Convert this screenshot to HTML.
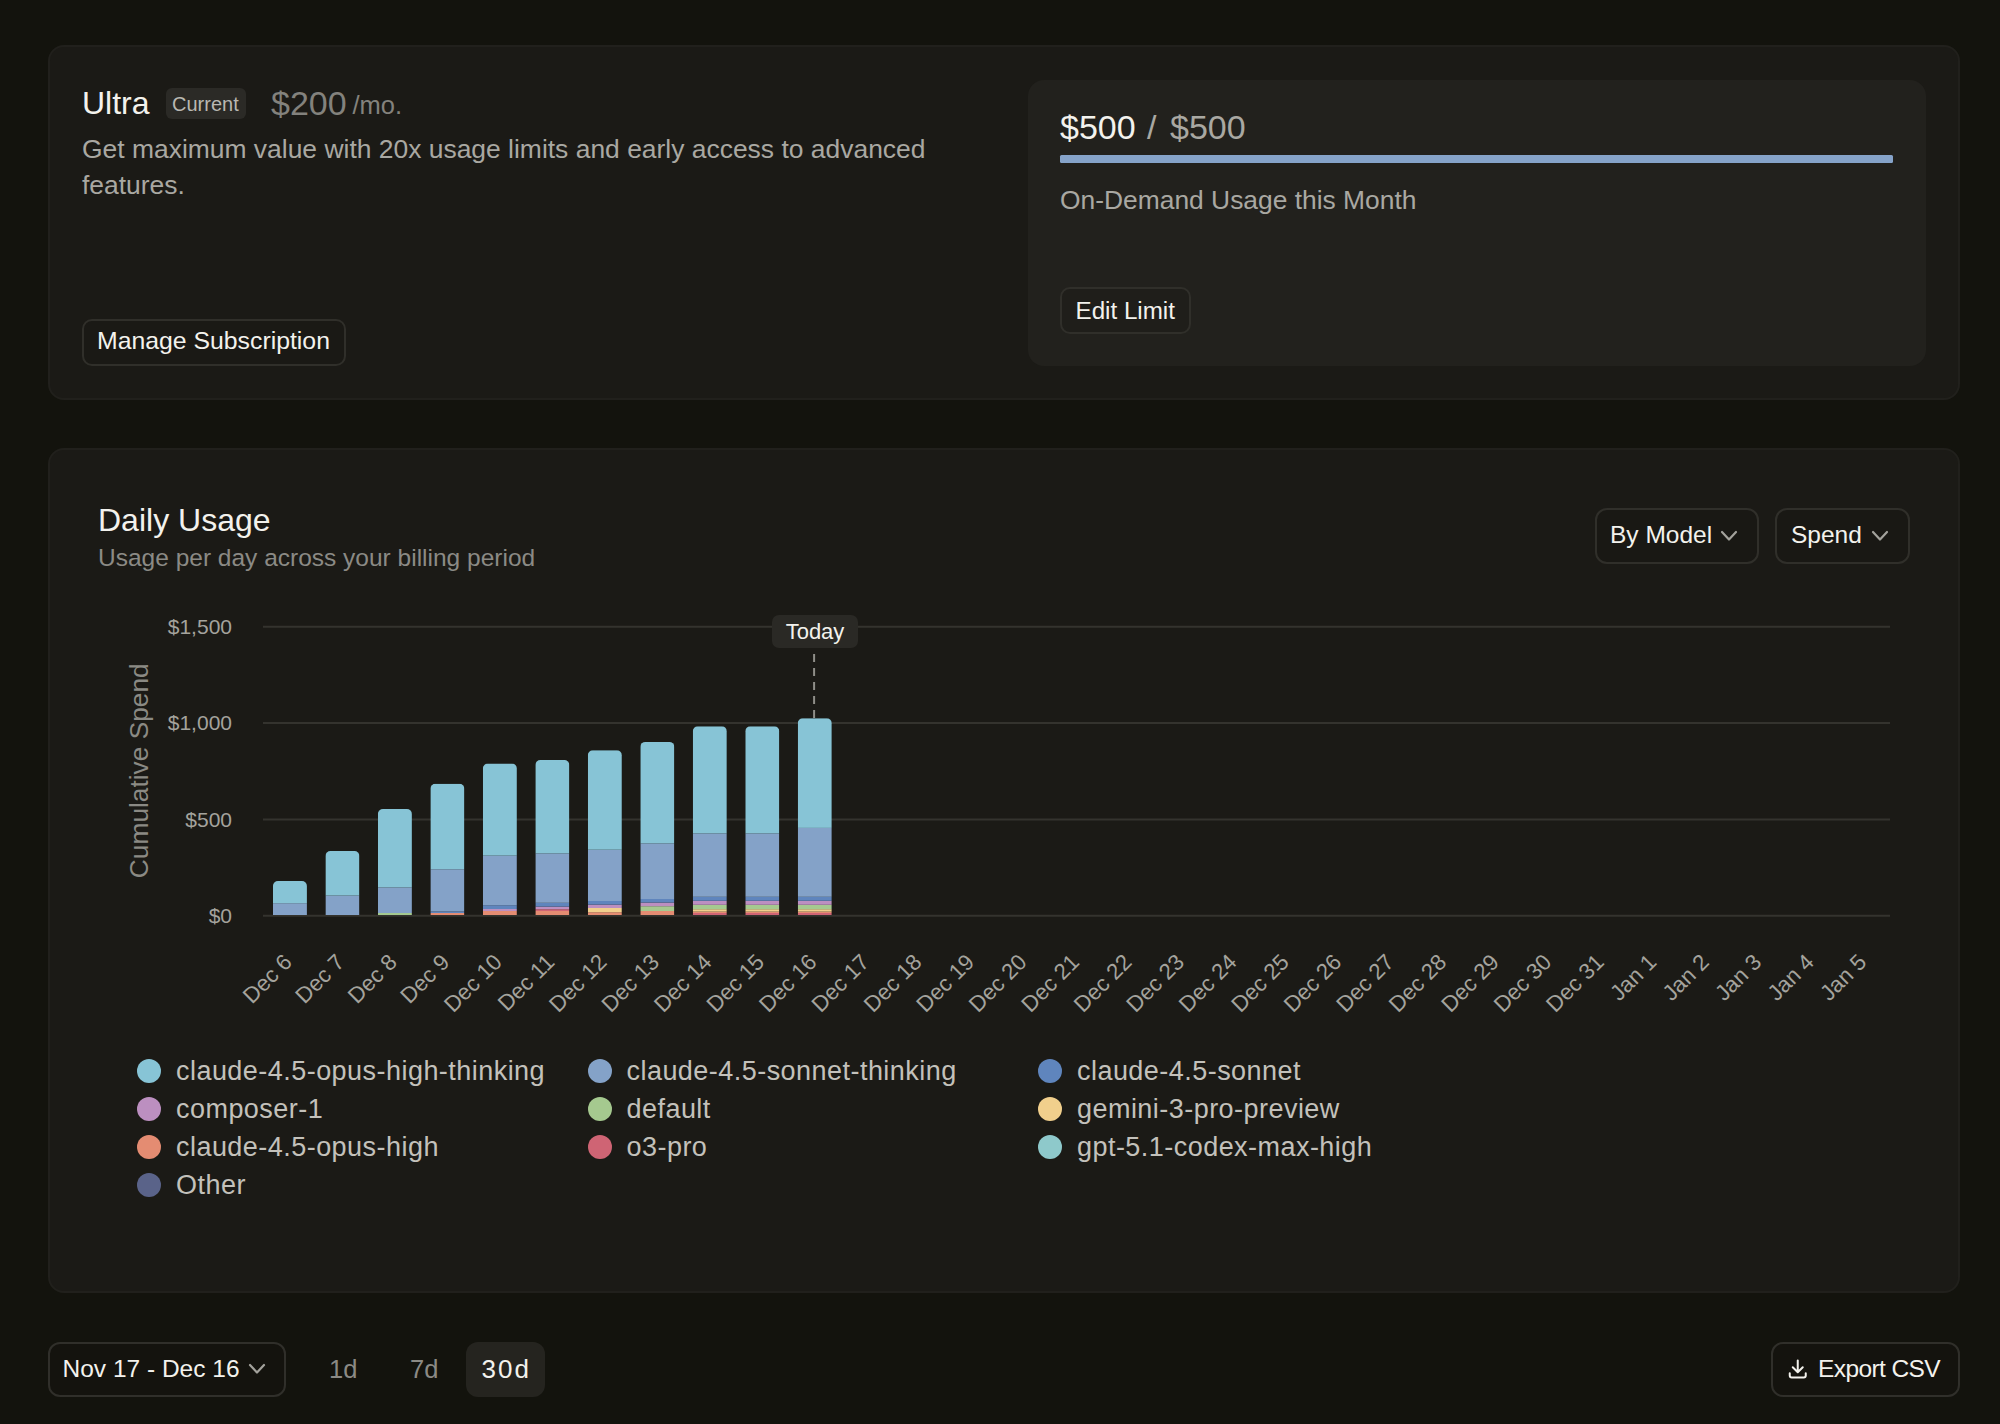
<!DOCTYPE html>
<html lang="en"><head><meta charset="utf-8"><title>Usage</title>
<style>
html,body{margin:0;padding:0;}
body{width:2000px;height:1424px;overflow:hidden;position:relative;background:#13130d;font-family:"Liberation Sans",Arial,sans-serif;}
.t{position:absolute;white-space:nowrap;}
.b{position:absolute;}
svg text{font-family:"Liberation Sans",Arial,sans-serif;}
</style></head><body>
<div class="b" style="left:48px;top:45px;width:1912px;height:355px;background:#1b1a16;border-radius:16px;box-sizing:border-box;border:2px solid #21201c;"></div>
<div class="t" style="left:82.0px;top:87.3px;font-size:32px;line-height:32px;color:#f3f2ed;">Ultra</div>
<div class="b" style="left:166px;top:88px;width:80px;height:31px;background:#2b2a26;border-radius:6px;box-sizing:border-box;"></div>
<div class="t" style="left:172.0px;top:94.0px;font-size:20px;line-height:20px;color:#b9b8b2;">Current</div>
<div class="t" style="left:271.0px;top:85.8px;font-size:34px;line-height:34px;color:#83827d;">$200</div>
<div class="t" style="left:352.5px;top:92.8px;font-size:25.5px;line-height:25.5px;color:#83827d;">/mo.</div>
<p class="b" style="margin:0;left:82px;top:130.9px;width:870px;font-size:26.45px;line-height:36px;color:#a9a8a2;">Get maximum value with 20x usage limits and early access to advanced features.</p>
<div class="b" style="left:82px;top:319px;width:264px;height:47px;background:#1a1915;border-radius:10px;box-sizing:border-box;border:2px solid #302f2a;box-sizing:border-box;"></div>
<div class="t" style="left:97.0px;top:329.3px;font-size:24.8px;line-height:24.8px;color:#f3f2ed;">Manage Subscription</div>
<div class="b" style="left:1028px;top:80px;width:898px;height:286px;background:#22211d;border-radius:16px;box-sizing:border-box;"></div>
<div class="t" style="left:1060.0px;top:110.1px;font-size:34px;line-height:34px;color:#f3f2ed;">$500</div>
<div class="t" style="left:1147.0px;top:110.1px;font-size:34px;line-height:34px;color:#a9a8a2;">/</div>
<div class="t" style="left:1170.0px;top:110.1px;font-size:34px;line-height:34px;color:#a9a8a2;">$500</div>
<div class="b" style="left:1060px;top:155px;width:833px;height:8px;background:#86a3c9;border-radius:1.5px;box-sizing:border-box;"></div>
<div class="t" style="left:1060.0px;top:187.2px;font-size:26.4px;line-height:26.4px;color:#a9a8a2;">On-Demand Usage this Month</div>
<div class="b" style="left:1060px;top:287px;width:131px;height:47px;background:#1f1e1a;border-radius:10px;box-sizing:border-box;border:2px solid #302f2a;box-sizing:border-box;"></div>
<div class="t" style="left:1075.5px;top:298.5px;font-size:24.2px;line-height:24.2px;color:#f3f2ed;">Edit Limit</div>
<div class="b" style="left:48px;top:448px;width:1912px;height:845px;background:#1b1a16;border-radius:16px;box-sizing:border-box;border:2px solid #21201c;"></div>
<div class="t" style="left:98.0px;top:503.5px;font-size:32px;line-height:32px;color:#f3f2ed;">Daily Usage</div>
<div class="t" style="left:98.0px;top:545.6px;font-size:24.5px;line-height:24.5px;color:#8b8a85;">Usage per day across your billing period</div>
<div class="b" style="left:1595px;top:508px;width:164px;height:56px;background:#191814;border-radius:12px;box-sizing:border-box;border:2px solid #302f2a;box-sizing:border-box;"></div>
<div class="t" style="left:1610.0px;top:523.3px;font-size:24.5px;line-height:24.5px;color:#f3f2ed;">By Model</div>
<svg class="b" style="left:1720px;top:530px" width="18" height="11.5" viewBox="-2 -2 18 11.5"><polyline points="0,0 7.0,7.5 14,0" fill="none" stroke="#a3a29c" stroke-width="2.2" stroke-linecap="round" stroke-linejoin="round"/></svg>
<div class="b" style="left:1775px;top:508px;width:135px;height:56px;background:#191814;border-radius:12px;box-sizing:border-box;border:2px solid #302f2a;box-sizing:border-box;"></div>
<div class="t" style="left:1791.0px;top:523.3px;font-size:24.5px;line-height:24.5px;color:#f3f2ed;">Spend</div>
<svg class="b" style="left:1871px;top:530px" width="18" height="11.5" viewBox="-2 -2 18 11.5"><polyline points="0,0 7.0,7.5 14,0" fill="none" stroke="#a3a29c" stroke-width="2.2" stroke-linecap="round" stroke-linejoin="round"/></svg>
<svg class="b" style="left:0;top:0" width="2000" height="1424" viewBox="0 0 2000 1424">
<line x1="263" x2="1890" y1="915.7" y2="915.7" stroke="#34332e" stroke-width="2"/>
<line x1="263" x2="1890" y1="819.4" y2="819.4" stroke="#34332e" stroke-width="2"/>
<line x1="263" x2="1890" y1="723.0" y2="723.0" stroke="#34332e" stroke-width="2"/>
<line x1="263" x2="1890" y1="626.7" y2="626.7" stroke="#34332e" stroke-width="2"/>
<text x="232" y="923.0" text-anchor="end" font-size="21" fill="#a4a39d">$0</text>
<text x="232" y="826.7" text-anchor="end" font-size="21" fill="#a4a39d">$500</text>
<text x="232" y="730.3" text-anchor="end" font-size="21" fill="#a4a39d">$1,000</text>
<text x="232" y="634.0" text-anchor="end" font-size="21" fill="#a4a39d">$1,500</text>
<text x="0" y="0" transform="translate(147.6 770.7) rotate(-90)" text-anchor="middle" font-size="26.3" fill="#8b8a84">Cumulative Spend</text>
<defs>
<clipPath id="c0"><rect x="272.94" y="881.00" width="34" height="44.00" rx="5" ry="5"/></clipPath>
<clipPath id="c1"><rect x="325.43" y="851.00" width="34" height="74.00" rx="5" ry="5"/></clipPath>
<clipPath id="c2"><rect x="377.91" y="809.00" width="34" height="116.00" rx="5" ry="5"/></clipPath>
<clipPath id="c3"><rect x="430.39" y="783.70" width="34" height="141.30" rx="5" ry="5"/></clipPath>
<clipPath id="c4"><rect x="482.88" y="763.50" width="34" height="161.50" rx="5" ry="5"/></clipPath>
<clipPath id="c5"><rect x="535.36" y="760.00" width="34" height="165.00" rx="5" ry="5"/></clipPath>
<clipPath id="c6"><rect x="587.85" y="750.20" width="34" height="174.80" rx="5" ry="5"/></clipPath>
<clipPath id="c7"><rect x="640.33" y="741.90" width="34" height="183.10" rx="5" ry="5"/></clipPath>
<clipPath id="c8"><rect x="692.81" y="726.30" width="34" height="198.70" rx="5" ry="5"/></clipPath>
<clipPath id="c9"><rect x="745.30" y="726.30" width="34" height="198.70" rx="5" ry="5"/></clipPath>
<clipPath id="c10"><rect x="797.78" y="718.20" width="34" height="206.80" rx="5" ry="5"/></clipPath>
</defs>
<g clip-path="url(#c0)">
<rect x="272.94" y="903.20" width="34" height="11.80" fill="#84a2c8"/>
<rect x="272.94" y="881.00" width="34" height="22.20" fill="#87c4d6"/>
</g>
<g clip-path="url(#c1)">
<rect x="325.43" y="895.50" width="34" height="19.50" fill="#84a2c8"/>
<rect x="325.43" y="851.00" width="34" height="44.50" fill="#87c4d6"/>
</g>
<g clip-path="url(#c2)">
<rect x="377.91" y="913.00" width="34" height="2.00" fill="#a5c98f"/>
<rect x="377.91" y="887.40" width="34" height="25.60" fill="#84a2c8"/>
<rect x="377.91" y="809.00" width="34" height="78.40" fill="#87c4d6"/>
</g>
<g clip-path="url(#c3)">
<rect x="430.39" y="913.00" width="34" height="2.00" fill="#e48c72"/>
<rect x="430.39" y="911.40" width="34" height="1.60" fill="#5f85bd"/>
<rect x="430.39" y="869.30" width="34" height="42.10" fill="#84a2c8"/>
<rect x="430.39" y="783.70" width="34" height="85.60" fill="#87c4d6"/>
</g>
<g clip-path="url(#c4)">
<rect x="482.88" y="911.00" width="34" height="4.00" fill="#e48c72"/>
<rect x="482.88" y="909.00" width="34" height="2.00" fill="#bc8fc0"/>
<rect x="482.88" y="905.20" width="34" height="3.80" fill="#5f85bd"/>
<rect x="482.88" y="855.60" width="34" height="49.60" fill="#84a2c8"/>
<rect x="482.88" y="763.50" width="34" height="92.10" fill="#87c4d6"/>
</g>
<g clip-path="url(#c5)">
<rect x="535.36" y="911.00" width="34" height="4.00" fill="#e48c72"/>
<rect x="535.36" y="909.20" width="34" height="1.80" fill="#cf6474"/>
<rect x="535.36" y="906.60" width="34" height="2.60" fill="#bc8fc0"/>
<rect x="535.36" y="902.80" width="34" height="3.80" fill="#5f85bd"/>
<rect x="535.36" y="853.40" width="34" height="49.40" fill="#84a2c8"/>
<rect x="535.36" y="760.00" width="34" height="93.40" fill="#87c4d6"/>
</g>
<g clip-path="url(#c6)">
<rect x="587.85" y="912.20" width="34" height="2.80" fill="#e48c72"/>
<rect x="587.85" y="908.00" width="34" height="4.20" fill="#f1cf8c"/>
<rect x="587.85" y="904.60" width="34" height="3.40" fill="#bc8fc0"/>
<rect x="587.85" y="901.00" width="34" height="3.60" fill="#5f85bd"/>
<rect x="587.85" y="849.70" width="34" height="51.30" fill="#84a2c8"/>
<rect x="587.85" y="750.20" width="34" height="99.50" fill="#87c4d6"/>
</g>
<g clip-path="url(#c7)">
<rect x="640.33" y="911.00" width="34" height="4.00" fill="#e48c72"/>
<rect x="640.33" y="906.20" width="34" height="4.80" fill="#a5c98f"/>
<rect x="640.33" y="902.60" width="34" height="3.60" fill="#bc8fc0"/>
<rect x="640.33" y="899.00" width="34" height="3.60" fill="#5f85bd"/>
<rect x="640.33" y="843.40" width="34" height="55.60" fill="#84a2c8"/>
<rect x="640.33" y="741.90" width="34" height="101.50" fill="#87c4d6"/>
</g>
<g clip-path="url(#c8)">
<rect x="692.81" y="913.00" width="34" height="2.00" fill="#cf6474"/>
<rect x="692.81" y="911.60" width="34" height="1.40" fill="#e48c72"/>
<rect x="692.81" y="909.20" width="34" height="2.40" fill="#f1cf8c"/>
<rect x="692.81" y="904.80" width="34" height="4.40" fill="#a5c98f"/>
<rect x="692.81" y="900.80" width="34" height="4.00" fill="#bc8fc0"/>
<rect x="692.81" y="896.80" width="34" height="4.00" fill="#5f85bd"/>
<rect x="692.81" y="833.40" width="34" height="63.40" fill="#84a2c8"/>
<rect x="692.81" y="726.30" width="34" height="107.10" fill="#87c4d6"/>
</g>
<g clip-path="url(#c9)">
<rect x="745.30" y="913.00" width="34" height="2.00" fill="#cf6474"/>
<rect x="745.30" y="911.60" width="34" height="1.40" fill="#e48c72"/>
<rect x="745.30" y="909.20" width="34" height="2.40" fill="#f1cf8c"/>
<rect x="745.30" y="904.80" width="34" height="4.40" fill="#a5c98f"/>
<rect x="745.30" y="900.80" width="34" height="4.00" fill="#bc8fc0"/>
<rect x="745.30" y="896.80" width="34" height="4.00" fill="#5f85bd"/>
<rect x="745.30" y="833.40" width="34" height="63.40" fill="#84a2c8"/>
<rect x="745.30" y="726.30" width="34" height="107.10" fill="#87c4d6"/>
</g>
<g clip-path="url(#c10)">
<rect x="797.78" y="913.00" width="34" height="2.00" fill="#cf6474"/>
<rect x="797.78" y="911.60" width="34" height="1.40" fill="#e48c72"/>
<rect x="797.78" y="909.20" width="34" height="2.40" fill="#f1cf8c"/>
<rect x="797.78" y="904.80" width="34" height="4.40" fill="#a5c98f"/>
<rect x="797.78" y="900.80" width="34" height="4.00" fill="#bc8fc0"/>
<rect x="797.78" y="896.80" width="34" height="4.00" fill="#5f85bd"/>
<rect x="797.78" y="827.90" width="34" height="68.90" fill="#84a2c8"/>
<rect x="797.78" y="718.20" width="34" height="109.70" fill="#87c4d6"/>
</g>
<line x1="814.1" x2="814.1" y1="654" y2="718" stroke="#8f8e88" stroke-width="2" stroke-dasharray="8 6"/>
<rect x="772" y="615" width="86" height="33" rx="7" fill="#2a2925"/>
<text x="815" y="639.4" text-anchor="middle" font-size="22" fill="#f3f2ed">Today</text>
<text x="293.2" y="963.5" text-anchor="end" transform="rotate(-45 293.2 963.5)" font-size="22.3" fill="#a4a39d">Dec 6</text>
<text x="345.7" y="963.5" text-anchor="end" transform="rotate(-45 345.7 963.5)" font-size="22.3" fill="#a4a39d">Dec 7</text>
<text x="398.2" y="963.5" text-anchor="end" transform="rotate(-45 398.2 963.5)" font-size="22.3" fill="#a4a39d">Dec 8</text>
<text x="450.7" y="963.5" text-anchor="end" transform="rotate(-45 450.7 963.5)" font-size="22.3" fill="#a4a39d">Dec 9</text>
<text x="503.2" y="963.5" text-anchor="end" transform="rotate(-45 503.2 963.5)" font-size="22.3" fill="#a4a39d">Dec 10</text>
<text x="555.7" y="963.5" text-anchor="end" transform="rotate(-45 555.7 963.5)" font-size="22.3" fill="#a4a39d">Dec 11</text>
<text x="608.1" y="963.5" text-anchor="end" transform="rotate(-45 608.1 963.5)" font-size="22.3" fill="#a4a39d">Dec 12</text>
<text x="660.6" y="963.5" text-anchor="end" transform="rotate(-45 660.6 963.5)" font-size="22.3" fill="#a4a39d">Dec 13</text>
<text x="713.1" y="963.5" text-anchor="end" transform="rotate(-45 713.1 963.5)" font-size="22.3" fill="#a4a39d">Dec 14</text>
<text x="765.6" y="963.5" text-anchor="end" transform="rotate(-45 765.6 963.5)" font-size="22.3" fill="#a4a39d">Dec 15</text>
<text x="818.1" y="963.5" text-anchor="end" transform="rotate(-45 818.1 963.5)" font-size="22.3" fill="#a4a39d">Dec 16</text>
<text x="870.6" y="963.5" text-anchor="end" transform="rotate(-45 870.6 963.5)" font-size="22.3" fill="#a4a39d">Dec 17</text>
<text x="923.0" y="963.5" text-anchor="end" transform="rotate(-45 923.0 963.5)" font-size="22.3" fill="#a4a39d">Dec 18</text>
<text x="975.5" y="963.5" text-anchor="end" transform="rotate(-45 975.5 963.5)" font-size="22.3" fill="#a4a39d">Dec 19</text>
<text x="1028.0" y="963.5" text-anchor="end" transform="rotate(-45 1028.0 963.5)" font-size="22.3" fill="#a4a39d">Dec 20</text>
<text x="1080.5" y="963.5" text-anchor="end" transform="rotate(-45 1080.5 963.5)" font-size="22.3" fill="#a4a39d">Dec 21</text>
<text x="1133.0" y="963.5" text-anchor="end" transform="rotate(-45 1133.0 963.5)" font-size="22.3" fill="#a4a39d">Dec 22</text>
<text x="1185.5" y="963.5" text-anchor="end" transform="rotate(-45 1185.5 963.5)" font-size="22.3" fill="#a4a39d">Dec 23</text>
<text x="1238.0" y="963.5" text-anchor="end" transform="rotate(-45 1238.0 963.5)" font-size="22.3" fill="#a4a39d">Dec 24</text>
<text x="1290.4" y="963.5" text-anchor="end" transform="rotate(-45 1290.4 963.5)" font-size="22.3" fill="#a4a39d">Dec 25</text>
<text x="1342.9" y="963.5" text-anchor="end" transform="rotate(-45 1342.9 963.5)" font-size="22.3" fill="#a4a39d">Dec 26</text>
<text x="1395.4" y="963.5" text-anchor="end" transform="rotate(-45 1395.4 963.5)" font-size="22.3" fill="#a4a39d">Dec 27</text>
<text x="1447.9" y="963.5" text-anchor="end" transform="rotate(-45 1447.9 963.5)" font-size="22.3" fill="#a4a39d">Dec 28</text>
<text x="1500.4" y="963.5" text-anchor="end" transform="rotate(-45 1500.4 963.5)" font-size="22.3" fill="#a4a39d">Dec 29</text>
<text x="1552.9" y="963.5" text-anchor="end" transform="rotate(-45 1552.9 963.5)" font-size="22.3" fill="#a4a39d">Dec 30</text>
<text x="1605.3" y="963.5" text-anchor="end" transform="rotate(-45 1605.3 963.5)" font-size="22.3" fill="#a4a39d">Dec 31</text>
<text x="1657.8" y="963.5" text-anchor="end" transform="rotate(-45 1657.8 963.5)" font-size="22.3" fill="#a4a39d">Jan 1</text>
<text x="1710.3" y="963.5" text-anchor="end" transform="rotate(-45 1710.3 963.5)" font-size="22.3" fill="#a4a39d">Jan 2</text>
<text x="1762.8" y="963.5" text-anchor="end" transform="rotate(-45 1762.8 963.5)" font-size="22.3" fill="#a4a39d">Jan 3</text>
<text x="1815.3" y="963.5" text-anchor="end" transform="rotate(-45 1815.3 963.5)" font-size="22.3" fill="#a4a39d">Jan 4</text>
<text x="1867.8" y="963.5" text-anchor="end" transform="rotate(-45 1867.8 963.5)" font-size="22.3" fill="#a4a39d">Jan 5</text>
</svg>
<div class="b" style="left:137px;top:1059px;width:24px;height:24px;border-radius:50%;background:#87c4d6"></div>
<div class="t" style="left:176.0px;top:1057.7px;font-size:27px;line-height:27px;color:#c3c1bb;letter-spacing:0.46px;">claude-4.5-opus-high-thinking</div>
<div class="b" style="left:587.5px;top:1059px;width:24px;height:24px;border-radius:50%;background:#84a2c8"></div>
<div class="t" style="left:626.5px;top:1057.7px;font-size:27px;line-height:27px;color:#c3c1bb;letter-spacing:0.46px;">claude-4.5-sonnet-thinking</div>
<div class="b" style="left:1038px;top:1059px;width:24px;height:24px;border-radius:50%;background:#5f85bd"></div>
<div class="t" style="left:1077.0px;top:1057.7px;font-size:27px;line-height:27px;color:#c3c1bb;letter-spacing:0.46px;">claude-4.5-sonnet</div>
<div class="b" style="left:137px;top:1097px;width:24px;height:24px;border-radius:50%;background:#bc8fc0"></div>
<div class="t" style="left:176.0px;top:1095.7px;font-size:27px;line-height:27px;color:#c3c1bb;letter-spacing:0.46px;">composer-1</div>
<div class="b" style="left:587.5px;top:1097px;width:24px;height:24px;border-radius:50%;background:#a5c98f"></div>
<div class="t" style="left:626.5px;top:1095.7px;font-size:27px;line-height:27px;color:#c3c1bb;letter-spacing:0.46px;">default</div>
<div class="b" style="left:1038px;top:1097px;width:24px;height:24px;border-radius:50%;background:#f1cf8c"></div>
<div class="t" style="left:1077.0px;top:1095.7px;font-size:27px;line-height:27px;color:#c3c1bb;letter-spacing:0.46px;">gemini-3-pro-preview</div>
<div class="b" style="left:137px;top:1135px;width:24px;height:24px;border-radius:50%;background:#e48c72"></div>
<div class="t" style="left:176.0px;top:1133.7px;font-size:27px;line-height:27px;color:#c3c1bb;letter-spacing:0.46px;">claude-4.5-opus-high</div>
<div class="b" style="left:587.5px;top:1135px;width:24px;height:24px;border-radius:50%;background:#cf6474"></div>
<div class="t" style="left:626.5px;top:1133.7px;font-size:27px;line-height:27px;color:#c3c1bb;letter-spacing:0.46px;">o3-pro</div>
<div class="b" style="left:1038px;top:1135px;width:24px;height:24px;border-radius:50%;background:#8ec9cb"></div>
<div class="t" style="left:1077.0px;top:1133.7px;font-size:27px;line-height:27px;color:#c3c1bb;letter-spacing:0.46px;">gpt-5.1-codex-max-high</div>
<div class="b" style="left:137px;top:1173px;width:24px;height:24px;border-radius:50%;background:#5a6389"></div>
<div class="t" style="left:176.0px;top:1171.7px;font-size:27px;line-height:27px;color:#c3c1bb;letter-spacing:0.46px;">Other</div>
<div class="b" style="left:48px;top:1342px;width:238px;height:55px;background:#14130e;border-radius:12px;box-sizing:border-box;border:2px solid #302f2a;box-sizing:border-box;"></div>
<div class="t" style="left:62.5px;top:1356.9px;font-size:24.5px;line-height:24.5px;color:#f3f2ed;">Nov 17 - Dec 16</div>
<svg class="b" style="left:248px;top:1363px" width="18" height="11.5" viewBox="-2 -2 18 11.5"><polyline points="0,0 7.0,7.5 14,0" fill="none" stroke="#a3a29c" stroke-width="2.2" stroke-linecap="round" stroke-linejoin="round"/></svg>
<div class="t" style="left:329.0px;top:1356.7px;font-size:25.5px;line-height:25.5px;color:#8b8a85;">1d</div>
<div class="t" style="left:410.0px;top:1356.7px;font-size:25.5px;line-height:25.5px;color:#8b8a85;">7d</div>
<div class="b" style="left:466px;top:1342px;width:79px;height:55px;background:#25241f;border-radius:12px;box-sizing:border-box;"></div>
<div class="t" style="left:481.5px;top:1356.3px;font-size:26px;line-height:26px;color:#f3f2ed;letter-spacing:2px;">30d</div>
<div class="b" style="left:1771px;top:1342px;width:189px;height:55px;background:#14130e;border-radius:12px;box-sizing:border-box;border:2px solid #302f2a;box-sizing:border-box;"></div>
<svg class="b" style="left:1786px;top:1358px" width="24" height="24" viewBox="0 0 24 24"><path d="M11.75 2.5V14M6.75 9.25l5 5 5-5M3.75 15.25v2.25a2 2 0 0 0 2 2h12a2 2 0 0 0 2-2v-2.25" fill="none" stroke="#f3f2ed" stroke-width="2" stroke-linecap="round" stroke-linejoin="round"/></svg>
<div class="t" style="left:1818.0px;top:1357.3px;font-size:24.5px;line-height:24.5px;color:#f3f2ed;letter-spacing:-0.6px;">Export CSV</div>
</body></html>
